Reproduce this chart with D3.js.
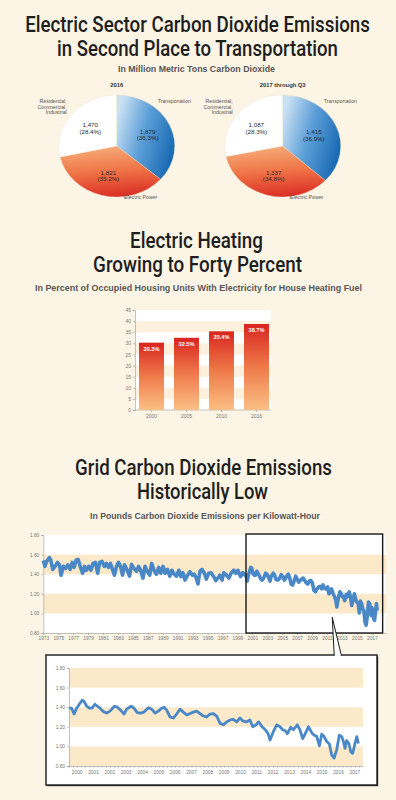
<!DOCTYPE html>
<html>
<head>
<meta charset="utf-8">
<script src="https://cdn.jsdelivr.net/npm/d3@7"></script>
<style>
  html, body { margin: 0; padding: 0; background: #fcf4e4; }
  svg { display: block; }
</style>
</head>
<body>
<svg id="chart" width="396" height="800"></svg>
<script>
// ---- data ----
var pieCategories = ["Transportation", "Electric Power", "Residential, Commercial, Industrial"];
var pieTitles = ["2016", "2017 through Q3"];
var pie2016 = [1879, 1821, 1470];
var pie2017 = [1415, 1337, 1087];

var heatYears = ["2000", "2005", "2010", "2016"];
var heatPercent = [30.3, 32.5, 35.4, 38.7];
var heatTicks = [0, 5, 10, 15, 20, 25, 30, 35, 40, 45];

var gridTicks = [0.8, 1.0, 1.2, 1.4, 1.6, 1.8];
var gridLongYears = [1973, 1975, 1977, 1979, 1981, 1983, 1985, 1987, 1989, 1991, 1993, 1995,
  1997, 1999, 2001, 2003, 2005, 2007, 2009, 2011, 2013, 2015, 2017];
var gridInsetYears = [2000, 2001, 2002, 2003, 2004, 2005, 2006, 2007, 2008, 2009, 2010, 2011,
  2012, 2013, 2014, 2015, 2016, 2017];

// [year, lbs CO2 per kWh]
var gridEarly = [[1973.00,1.54],[1973.22,1.48],[1973.45,1.53],[1973.81,1.57],[1973.99,1.545],
  [1974.26,1.45],[1974.57,1.48],[1974.89,1.52],[1975.16,1.495],[1975.38,1.39],[1975.70,1.48],
  [1976.01,1.46],[1976.28,1.495],[1976.60,1.45],[1976.87,1.52],[1977.13,1.47],[1977.40,1.545],
  [1977.67,1.55],[1977.94,1.48],[1978.26,1.41],[1978.53,1.48],[1978.75,1.44],[1979.07,1.48],
  [1979.38,1.44],[1979.65,1.51],[1979.97,1.52],[1980.28,1.41],[1980.55,1.52],[1980.87,1.53],
  [1981.18,1.48],[1981.45,1.51],[1981.72,1.47],[1981.99,1.51],[1982.26,1.45],[1982.53,1.39],
  [1982.80,1.48],[1983.07,1.52],[1983.34,1.48],[1983.61,1.39],[1983.88,1.495],[1984.24,1.44],
  [1984.55,1.38],[1984.82,1.50],[1985.13,1.46],[1985.49,1.43],[1985.76,1.48],[1986.03,1.44],
  [1986.35,1.36],[1986.62,1.48],[1986.93,1.43],[1987.25,1.39],[1987.52,1.51],[1987.83,1.44],
  [1988.15,1.40],[1988.46,1.47],[1988.73,1.41],[1989.04,1.48],[1989.31,1.41],[1989.63,1.45],
  [1989.94,1.38],[1990.21,1.44],[1990.53,1.40],[1990.84,1.38],[1991.16,1.44],[1991.43,1.375],
  [1991.70,1.415],[1991.97,1.34],[1992.33,1.39],[1992.64,1.425],[1992.96,1.39],[1993.22,1.40],
  [1993.49,1.36],[1993.72,1.30],[1993.98,1.43],[1994.25,1.45],[1994.57,1.41],[1994.84,1.35],
  [1995.15,1.41],[1995.47,1.415],[1995.83,1.375],[1996.10,1.335],[1996.37,1.36],[1996.63,1.39],
  [1996.95,1.34],[1997.17,1.415],[1997.53,1.39],[1997.85,1.36],[1998.16,1.41],[1998.52,1.44],
  [1998.79,1.41],[1999.06,1.44],[1999.42,1.375],[1999.73,1.415]];

// [year, lbs CO2 per kWh]
var gridRecent = [[2000.00,1.39],[2000.16,1.39],[2000.31,1.33],[2000.47,1.39],[2000.63,1.43],
  [2000.80,1.47],[2000.92,1.46],[2001.08,1.41],[2001.25,1.39],[2001.41,1.39],[2001.59,1.43],
  [2001.74,1.41],[2001.90,1.39],[2002.10,1.355],[2002.31,1.34],[2002.51,1.36],[2002.78,1.41],
  [2002.96,1.40],[2003.16,1.37],[2003.37,1.33],[2003.53,1.38],[2003.80,1.41],[2003.98,1.39],
  [2004.18,1.345],[2004.39,1.34],[2004.59,1.35],[2004.86,1.395],[2005.06,1.38],[2005.27,1.34],
  [2005.47,1.36],[2005.68,1.39],[2005.82,1.40],[2005.98,1.37],[2006.19,1.30],[2006.39,1.29],
  [2006.59,1.33],[2006.80,1.38],[2007.00,1.35],[2007.21,1.32],[2007.41,1.335],[2007.61,1.35],
  [2007.82,1.36],[2008.02,1.335],[2008.23,1.31],[2008.43,1.30],[2008.63,1.33],[2008.84,1.335],
  [2009.04,1.31],[2009.25,1.235],[2009.45,1.22],[2009.66,1.25],[2009.86,1.27],[2010.06,1.275],
  [2010.27,1.25],[2010.47,1.29],[2010.64,1.26],[2010.84,1.25],[2011.08,1.27],[2011.25,1.20],
  [2011.45,1.22],[2011.61,1.25],[2011.82,1.20],[2012.02,1.17],[2012.19,1.13],[2012.31,1.065],
  [2012.51,1.15],[2012.72,1.22],[2012.92,1.20],[2013.08,1.17],[2013.25,1.16],[2013.37,1.13],
  [2013.57,1.195],[2013.74,1.17],[2013.98,1.22],[2014.15,1.165],[2014.31,1.08],[2014.45,1.125],
  [2014.66,1.20],[2014.86,1.14],[2015.00,1.115],[2015.17,1.10],[2015.33,1.005],[2015.47,1.125],
  [2015.62,1.10],[2015.78,1.05],[2015.94,1.025],[2016.09,0.91],[2016.23,0.88],[2016.39,0.965],
  [2016.55,1.115],[2016.70,1.10],[2016.80,1.05],[2016.90,0.98],[2017.00,1.06],[2017.13,1.03],
  [2017.25,0.945],[2017.37,0.93],[2017.51,1.03],[2017.62,1.10],[2017.72,1.03]];

// ---- setup ----
var W = 396;
var titleFont = "Roboto, 'Liberation Sans Narrow', 'DejaVu Sans Condensed', sans-serif";
var bodyFont = "'Liberation Sans', Arial, sans-serif";
var bg = "#fcf4e4";
var band = "#fbe9c9";
var lineColor = "#4a87c6";

var svg = d3.select("#chart");
svg.append("rect").attr("width", W).attr("height", 800).attr("fill", bg);
var defs = svg.append("defs");

function grad(id, x1, y1, x2, y2, stops) {
  var g = defs.append("linearGradient").attr("id", id)
    .attr("x1", x1).attr("y1", y1).attr("x2", x2).attr("y2", y2);
  stops.forEach(function(s) {
    g.append("stop").attr("offset", s[0]).attr("stop-color", s[1]);
  });
}
grad("gBlue", 0, 0.3, 1, 0.7, [[0, "#c9e0f3"], [0.45, "#5c9fd8"], [1, "#1566b1"]]);
grad("gOrange", 0.35, 0, 0.5, 1, [[0, "#f7ae7a"], [0.5, "#ef7446"], [1, "#db2e26"]]);
grad("gBar", 0, 0, 0, 1, [[0, "#d8251f"], [0.5, "#ef7a4a"], [1, "#fbbf85"]]);

// titles: [text, centre x, baseline y, width] -- squeezed horizontally to the reference width
function heading(lines, size) {
  lines.forEach(function(l) {
    var t = svg.append("text")
      .attr("text-anchor", "middle")
      .attr("font-family", titleFont)
      .attr("font-size", size)
      .attr("font-weight", 500)
      .attr("fill", "#1e1e1e")
      .text(l[0]);
    var natural = t.node().getComputedTextLength();
    t.attr("transform", "translate(" + l[1] + "," + l[2] + ") scale(" + (l[3] / natural) + ",1)");
  });
}
function subhead(text, x, y, w) {
  svg.append("text")
    .attr("x", x).attr("y", y)
    .attr("text-anchor", "middle")
    .attr("font-family", bodyFont)
    .attr("font-size", 8.5)
    .attr("font-weight", "bold")
    .attr("fill", "#575757")
    .attr("textLength", w)
    .attr("lengthAdjust", "spacingAndGlyphs")
    .text(text);
}

// ---- section 1: pies ----
heading([["Electric Sector Carbon Dioxide Emissions", 197.5, 32, 345],
         ["in Second Place to Transportation", 197.5, 56, 281]], 22.5);
subhead("In Million Metric Tons Carbon Dioxide", 196.5, 72, 157);

var pieFills = ["url(#gBlue)", "url(#gOrange)", "#ffffff"];
var rx = 58, ry = 51;

function drawPie(cx, cy, values, title) {
  var g = svg.append("g").attr("transform", "translate(" + cx + "," + cy + ")");
  var total = d3.sum(values);
  var arcs = d3.pie().sort(null)(values);
  var arc = d3.arc().innerRadius(0).outerRadius(rx);
  var inner = d3.arc().innerRadius(34).outerRadius(34);

  g.append("g").attr("transform", "scale(1," + (ry / rx) + ")")
    .selectAll("path")
    .data(arcs)
    .enter().append("path")
    .attr("d", arc)
    .attr("fill", function(d, i) { return pieFills[i]; })
    .attr("stroke", "#eadfcc")
    .attr("stroke-width", 0.4);

  // value labels
  arcs.forEach(function(d, i) {
    var c = inner.centroid(d);
    var t = g.append("text")
      .attr("x", c[0]).attr("y", c[1] * ry / rx)
      .attr("text-anchor", "middle")
      .attr("font-family", bodyFont)
      .attr("font-size", 6.2)
      .attr("fill", "#2a2a2a");
    t.append("tspan").attr("x", c[0]).attr("dy", 0)
      .text(d3.format(",")(values[i]));
    t.append("tspan").attr("x", c[0]).attr("dy", 6.5)
      .text("(" + d3.format(".1f")(values[i] / total * 100) + "%)");
  });

  // title
  g.append("text")
    .attr("x", 0).attr("y", -ry - 8)
    .attr("text-anchor", "middle")
    .attr("font-family", bodyFont)
    .attr("font-size", 5.8)
    .attr("font-weight", "bold")
    .attr("fill", "#333")
    .text(title);

  // category labels
  var lab = { font: bodyFont, size: 5.2, fill: "#555" };
  g.append("text").attr("x", 41).attr("y", -43)
    .attr("font-family", lab.font).attr("font-size", lab.size).attr("fill", lab.fill)
    .text(pieCategories[0]);
  g.append("text").attr("x", 24).attr("y", 53).attr("text-anchor", "middle")
    .attr("font-family", lab.font).attr("font-size", lab.size).attr("fill", lab.fill)
    .text(pieCategories[1]);
  var parts = pieCategories[2].split(" ");
  var rt = g.append("text").attr("text-anchor", "end")
    .attr("font-family", lab.font).attr("font-size", lab.size).attr("fill", lab.fill);
  parts.forEach(function(p, k) {
    rt.append("tspan").attr("x", -50).attr("y", -43 + k * 5.5).text(p);
  });
}
drawPie(116.7, 146, pie2016, pieTitles[0]);
drawPie(282.7, 146, pie2017, pieTitles[1]);

// ---- section 2: bars ----
heading([["Electric Heating", 196.5, 248, 133],
         ["Growing to Forty Percent", 197.5, 272, 209]], 22.5);
subhead("In Percent of Occupied Housing Units With Electricity for House Heating Fuel", 198.5, 290.5, 327);

var yBar = d3.scaleLinear().domain([0, 45]).range([410, 310]);
var xBar = d3.scaleBand().domain(heatYears).range([134, 274])
  .paddingInner(10 / 35).paddingOuter(5 / 35);
var barLeft = 135, barRight = 271;

var bands = svg.append("g");
heatTicks.slice(0, -1).forEach(function(t, i) {
  bands.append("rect")
    .attr("x", barLeft).attr("width", barRight - barLeft)
    .attr("y", yBar(t + 5)).attr("height", yBar(t) - yBar(t + 5))
    .attr("fill", i % 2 === 0 ? "#ffffff" : "#fdf0dc");
});

svg.append("g")
  .attr("transform", "translate(" + barLeft + ",0)")
  .call(d3.axisLeft(yBar).tickValues(heatTicks).tickSize(2).tickPadding(2))
  .call(function(a) {
    a.selectAll("path,line").attr("stroke", "#9a9a9a").attr("stroke-width", 0.6);
    a.selectAll("text").attr("font-family", bodyFont).attr("font-size", 5).attr("fill", "#777");
  });
svg.append("g")
  .attr("transform", "translate(0,410)")
  .call(d3.axisBottom(xBar).tickSize(2).tickPadding(2).tickSizeOuter(0))
  .call(function(a) {
    a.select(".domain").attr("d", "M" + barLeft + ",0H" + barRight);
    a.selectAll("path,line").attr("stroke", "#9a9a9a").attr("stroke-width", 0.6);
    a.selectAll("text").attr("font-family", bodyFont).attr("font-size", 5).attr("fill", "#777");
  });

svg.append("g").selectAll("rect")
  .data(heatPercent)
  .enter().append("rect")
  .attr("x", function(d, i) { return xBar(heatYears[i]); })
  .attr("width", xBar.bandwidth())
  .attr("y", function(d) { return yBar(d); })
  .attr("height", function(d) { return yBar(0) - yBar(d); })
  .attr("fill", "url(#gBar)");

svg.append("g").selectAll("text")
  .data(heatPercent)
  .enter().append("text")
  .attr("x", function(d, i) { return xBar(heatYears[i]) + xBar.bandwidth() / 2; })
  .attr("y", function(d) { return yBar(d) + 8; })
  .attr("text-anchor", "middle")
  .attr("font-family", bodyFont)
  .attr("font-size", 5.6)
  .attr("font-weight", "bold")
  .attr("fill", "#ffffff")
  .text(function(d) { return d3.format(".1f")(d) + "%"; });

// ---- section 3: line charts ----
heading([["Grid Carbon Dioxide Emissions", 203.5, 475, 257],
         ["Historically Low", 202.5, 499, 131]], 22.5);
subhead("In Pounds Carbon Dioxide Emissions per Kilowatt-Hour", 205, 519, 230);

var gridAll = gridEarly.concat(gridRecent);
var fmt2 = d3.format(".2f");

function axisStyle(a) {
  a.selectAll("path,line").attr("stroke", "#9a9a9a").attr("stroke-width", 0.6);
  a.selectAll("text").attr("font-family", bodyFont).attr("font-size", 4.8).attr("fill", "#777");
}

function bandsFor(g, y, x0, x1, creamOdd) {
  gridTicks.slice(0, -1).forEach(function(t, i) {
    var cream = creamOdd ? i % 2 === 1 : i % 2 === 0;
    g.append("rect")
      .attr("x", x0).attr("width", x1 - x0)
      .attr("y", y(gridTicks[i + 1])).attr("height", y(t) - y(gridTicks[i + 1]))
      .attr("fill", cream ? band : "#ffffff");
  });
}

// long chart
var xLong = d3.scaleLinear().domain([1973, 2018.9]).range([43.3, 386]);
var yLong = d3.scaleLinear().domain([0.8, 1.8]).range([633, 535]);
var longG = svg.append("g");
bandsFor(longG, yLong, 43.3, 386, true);

longG.append("g")
  .attr("transform", "translate(43.3,0)")
  .call(d3.axisLeft(yLong).tickValues(gridTicks).tickFormat(fmt2).tickSize(2).tickPadding(2))
  .call(axisStyle);
longG.append("g")
  .attr("transform", "translate(0,633)")
  .call(d3.axisBottom(xLong).tickValues(gridLongYears).tickFormat(d3.format("d"))
    .tickSize(2).tickPadding(2).tickSizeOuter(0))
  .call(axisStyle);

longG.append("path")
  .datum(gridAll)
  .attr("d", d3.line().x(function(d) { return xLong(d[0]); }).y(function(d) { return yLong(d[1]); }))
  .attr("fill", "none")
  .attr("stroke", lineColor)
  .attr("stroke-width", 3.6)
  .attr("stroke-linejoin", "round");

var boxX0 = xLong(2000.15), boxX1 = xLong(2018.45);
longG.append("rect")
  .attr("x", boxX0).attr("y", yLong(1.8) - 1)
  .attr("width", boxX1 - boxX0).attr("height", yLong(0.8) - yLong(1.8) + 1)
  .attr("fill", "none").attr("stroke", "#1a1a1a").attr("stroke-width", 1.4);

// inset chart
var xInset = d3.scaleLinear().domain([2000, 2018]).range([69, 363]);
var yInset = d3.scaleLinear().domain([0.8, 1.8]).range([766, 668]);
var insetG = svg.append("g");
var inX0 = 46, inX1 = 377, inY0 = 655, inY1 = 785;

insetG.append("rect")
  .attr("x", inX0 + 1.2).attr("y", inY0 + 1.2)
  .attr("width", inX1 - inX0).attr("height", inY1 - inY0)
  .attr("fill", "#3a3a3a");
insetG.append("rect")
  .attr("x", inX0).attr("y", inY0)
  .attr("width", inX1 - inX0).attr("height", inY1 - inY0)
  .attr("fill", "#ffffff").attr("stroke", "#1a1a1a").attr("stroke-width", 1.4);

bandsFor(insetG, yInset, 69, 363, false);

insetG.append("g")
  .attr("transform", "translate(69,0)")
  .call(d3.axisLeft(yInset).tickValues(gridTicks).tickFormat(fmt2).tickSize(2).tickPadding(2))
  .call(axisStyle);

var quarters = [];
gridInsetYears.forEach(function(y) { quarters.push(y, y + 0.25, y + 0.5, y + 0.75); });
insetG.append("g")
  .attr("transform", "translate(0,766)")
  .call(d3.axisBottom(xInset).tickValues(quarters).tickFormat("").tickSize(1.8).tickSizeOuter(0))
  .call(axisStyle);
insetG.append("g").selectAll("text")
  .data(gridInsetYears)
  .enter().append("text")
  .attr("x", function(d) { return xInset(d + 0.5); })
  .attr("y", 774)
  .attr("text-anchor", "middle")
  .attr("font-family", bodyFont)
  .attr("font-size", 4.8)
  .attr("fill", "#777")
  .text(function(d) { return d; });

insetG.append("path")
  .datum(gridRecent)
  .attr("d", d3.line().x(function(d) { return xInset(d[0]); }).y(function(d) { return yInset(d[1]); }))
  .attr("fill", "none")
  .attr("stroke", lineColor)
  .attr("stroke-width", 2.8)
  .attr("stroke-linejoin", "round");

// callout wedge from the long chart box to the inset
var tipX = xLong(2011.7), tipY = yLong(0.96);
svg.append("path")
  .attr("d", "M" + tipX + "," + tipY + "L" + (tipX + 2) + "," + inY0 + "L" + (tipX + 9) + "," + inY0 + "Z")
  .attr("fill", "#ffffff")
  .attr("stroke", "#1a1a1a")
  .attr("stroke-width", 1);
svg.append("rect")
  .attr("x", tipX + 2.6).attr("y", inY0 - 1).attr("width", 5.8).attr("height", 2.4)
  .attr("fill", "#ffffff");
</script>
</body>
</html>
